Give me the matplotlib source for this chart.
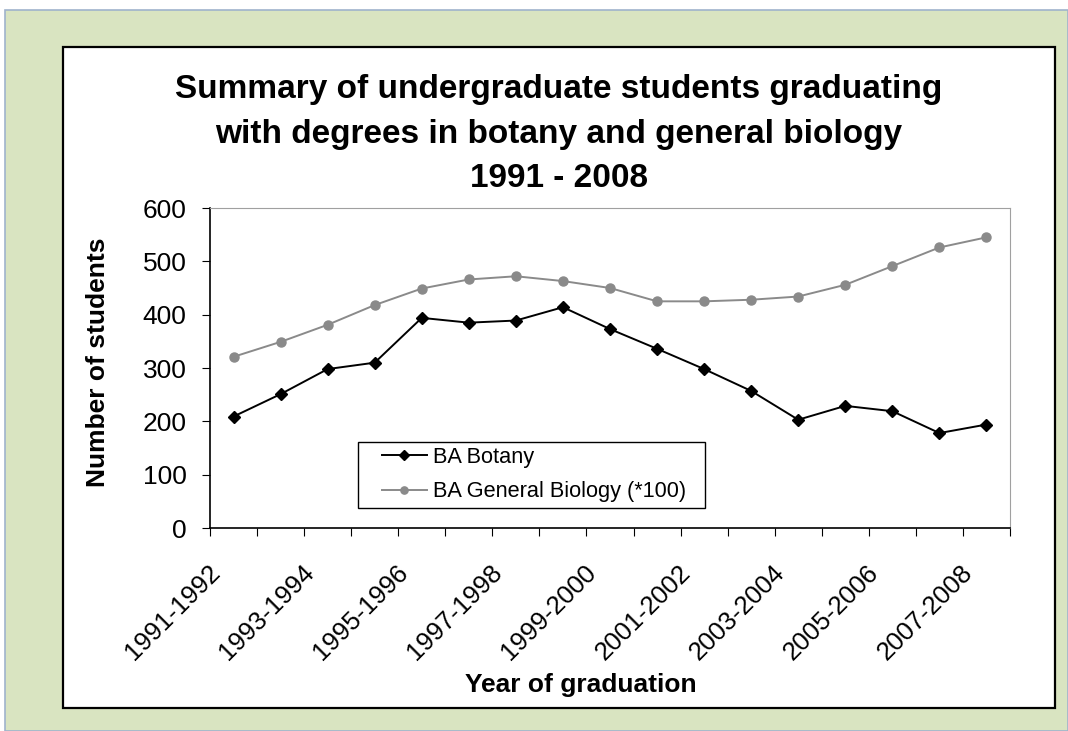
"""Botany vs general biology graduates, 1991-2008."""

import matplotlib
matplotlib.use("Agg")
import matplotlib.pyplot as plt
from matplotlib.patches import Rectangle
from matplotlib.transforms import ScaledTranslation

plt.rcParams["font.family"] = ["Liberation Sans", "DejaVu Sans"]

years = ["1991-1992", "1992-1993", "1993-1994", "1994-1995", "1995-1996",
         "1996-1997", "1997-1998", "1998-1999", "1999-2000", "2000-2001",
         "2001-2002", "2002-2003", "2003-2004", "2004-2005", "2005-2006",
         "2006-2007", "2007-2008"]
botany = [209, 251, 298, 310, 394, 385, 389, 414, 373, 336, 298, 257, 203,
          229, 219, 178, 194]
gen_bio = [321, 349, 381, 418, 449, 466, 472, 463, 450, 425, 425, 428, 434,
           456, 491, 526, 545]
yticks = [0, 100, 200, 300, 400, 500, 600]

W, H = 1068, 731
fig = plt.figure(figsize=(W / 100, H / 100), dpi=100)
fig.patch.set_facecolor("white")

# green panel and the white chart box, kept behind the axes
fig.add_artist(Rectangle((5 / W, 0), 1 - 5 / W, 1 - 10 / H, transform=fig.transFigure,
                         facecolor="#d9e4c1", edgecolor="#9fb3cc", linewidth=1.2,
                         zorder=-2))
fig.add_artist(Rectangle((63 / W, 1 - 708 / H), (1055 - 63) / W, (708 - 47) / H,
                         transform=fig.transFigure, facecolor="white",
                         edgecolor="black", linewidth=1.6, zorder=-1))

ax = fig.add_axes([210 / W, 1 - 528 / H, 800 / W, 320 / H])
ax.set_facecolor("white")
x = list(range(len(years)))
ax.plot(x, botany, color="black", marker="D", markersize=6.5, linewidth=1.4,
        label="BA Botany")
ax.plot(x, gen_bio, color="#8a8a8a", marker="o", markersize=6.5, linewidth=1.4,
        label="BA General Biology (*100)")

ax.set_xlim(-0.5, len(years) - 0.5)
ax.set_ylim(0, 600)
ax.set_yticks(yticks)
ax.tick_params(axis="y", labelsize=19, length=6, direction="out", pad=11)
ax.set_xticks([i - 0.5 for i in range(len(years) + 1)])
ax.set_xticklabels([])
ax.set_xticks(x[::2], minor=True)
ax.set_xticklabels(years[::2], minor=True, rotation=45, ha="right",
                   rotation_mode="anchor", fontsize=18.5)
ax.tick_params(axis="x", which="major", length=6, direction="out")
ax.tick_params(axis="x", which="minor", length=0, pad=14)
# Excel sets the slanted labels a little left of the category centre
shift = ScaledTranslation(-26 / 100, -13 / 100, fig.dpi_scale_trans)
for lab in ax.xaxis.get_minorticklabels():
    lab.set_transform(lab.get_transform() + shift)

for side in ("top", "right"):
    ax.spines[side].set_color("#a0a0a0")
for side in ("left", "bottom"):
    ax.spines[side].set_color("black")
    ax.spines[side].set_linewidth(1.2)

ax.set_ylabel("Number of students", fontsize=19, fontweight="bold", va="center")
ax.yaxis.set_label_coords((98 - 210) / 800, (528 - 362) / 320)
ax.set_xlabel("Year of graduation", fontsize=19, fontweight="bold", va="center")
ax.xaxis.set_label_coords((581 - 210) / 800, (528 - 685) / 320)

fig.text(559 / W, 1 - 134 / H,
         "Summary of undergraduate students graduating\n"
         "with degrees in botany and general biology\n1991 - 2008",
         ha="center", va="center", fontsize=24, fontweight="bold", linespacing=1.55)

# legend box drawn separately so its padding can match the original
ax.add_patch(Rectangle((148 / 800, 20 / 320), 347 / 800, 66 / 320,
                       transform=ax.transAxes, facecolor="white",
                       edgecolor="black", linewidth=1.0, zorder=4))
ax.legend(loc="center left", bbox_to_anchor=(172 / 800, (528 - 474.5) / 320),
          fontsize=15.7, frameon=False, borderaxespad=0, borderpad=0,
          handlelength=2.05, handletextpad=0.3, labelspacing=0.64,
          markerscale=0.8)

fig.savefig("out.png", dpi=100)
